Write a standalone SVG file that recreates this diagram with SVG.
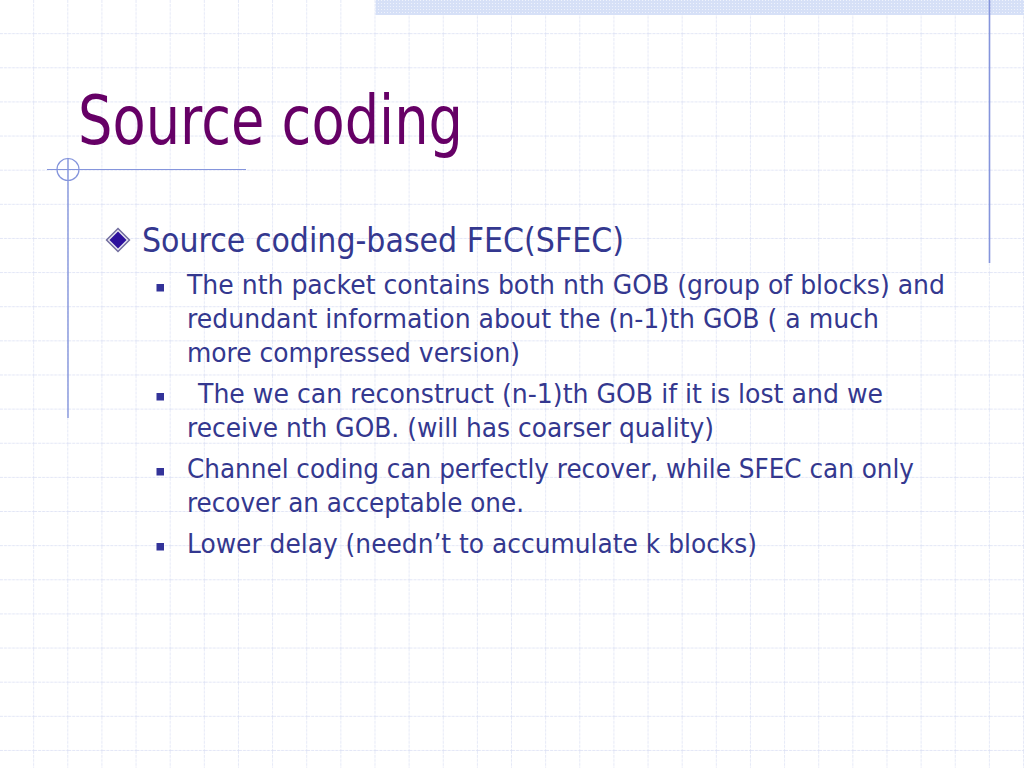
<svg xmlns="http://www.w3.org/2000/svg" width="1024" height="768" viewBox="0 0 1024 768">
  <defs>
    <pattern id="grid" x="0" y="0" width="34.1333" height="34.1333" patternUnits="userSpaceOnUse">
      <path d="M34.1333 0 V34.1333 M0 34.1333 H34.1333" fill="none" stroke="#d9def3" stroke-width="1.3" stroke-dasharray="3 1"/>
    </pattern>
    <pattern id="dots" x="0" y="0" width="3" height="3" patternUnits="userSpaceOnUse">
      <rect width="3" height="3" fill="#d6e0f7"/>
      <rect width="1" height="1" fill="#eef2fc"/>
    </pattern>
    <style>
      .deco { stroke: #8595dc; fill: none; }
      .title { font-family: "DejaVu Sans", Verdana, sans-serif; font-size: 68px; fill: #660066; }
      .l1 { font-family: "DejaVu Sans", Verdana, sans-serif; font-size: 33px; fill: #34388f; }
      .l2 { font-family: "DejaVu Sans", Verdana, sans-serif; font-size: 26px; fill: #34388f; }
      .sq { fill: #333399; }
    </style>
  </defs>

  <g id="background">
    <rect width="1024" height="768" fill="#ffffff"/>
    <rect width="1024" height="768" fill="url(#grid)"/>
    <rect x="375.5" y="0" width="648.5" height="15" fill="url(#dots)"/>
  </g>

  <g id="decoration">
    <line class="deco" x1="989.5" y1="0" x2="989.5" y2="263" stroke-width="1.6"/>
    <line class="deco" x1="68" y1="158" x2="68" y2="418" stroke-width="1.4"/>
    <line class="deco" x1="47" y1="169.5" x2="246" y2="169.5" stroke-width="1.2"/>
    <circle class="deco" cx="68" cy="169.5" r="11" stroke-width="1.2"/>
  </g>

  <g id="title">
    <text class="title" x="78" y="143.5" textLength="385" lengthAdjust="spacingAndGlyphs">Source coding</text>
  </g>

  <g id="bullet-l1">
    <polygon points="118,227.5 130.5,240 118,252.5 105.5,240" fill="#6f6a9c"/>
    <polygon points="118,229.5 128.5,240 118,250.5 107.5,240" fill="#e7e5f2"/>
    <polygon points="118,231.5 126.5,240 118,248.5 109.5,240" fill="#2c109c"/>
    <text class="l1" x="142" y="251.7" textLength="482" lengthAdjust="spacingAndGlyphs">Source coding-based FEC(SFEC)</text>
  </g>

  <g id="bullet-1">
    <rect class="sq" x="156.5" y="284" width="7.5" height="7.5"/>
    <text class="l2" x="187" y="293.5" textLength="758" lengthAdjust="spacingAndGlyphs">The nth packet contains both nth GOB (group of blocks) and</text>
    <text class="l2" x="187" y="327.5" textLength="692" lengthAdjust="spacingAndGlyphs">redundant information about the (n-1)th GOB ( a much</text>
    <text class="l2" x="187" y="361.5" textLength="333" lengthAdjust="spacingAndGlyphs">more compressed version)</text>
  </g>

  <g id="bullet-2">
    <rect class="sq" x="156.5" y="393" width="7.5" height="7.5"/>
    <text class="l2" x="198" y="403" textLength="685" lengthAdjust="spacingAndGlyphs">The we can reconstruct (n-1)th GOB if it is lost and we</text>
    <text class="l2" x="187" y="437" textLength="527" lengthAdjust="spacingAndGlyphs">receive nth GOB. (will has coarser quality)</text>
  </g>

  <g id="bullet-3">
    <rect class="sq" x="156.5" y="468" width="7.5" height="7.5"/>
    <text class="l2" x="187" y="478" textLength="727" lengthAdjust="spacingAndGlyphs">Channel coding can perfectly recover, while SFEC can only</text>
    <text class="l2" x="187" y="512" textLength="337" lengthAdjust="spacingAndGlyphs">recover an acceptable one.</text>
  </g>

  <g id="bullet-4">
    <rect class="sq" x="156.5" y="543" width="7.5" height="7.5"/>
    <text class="l2" x="187" y="553" textLength="570" lengthAdjust="spacingAndGlyphs">Lower delay (needn’t to accumulate k blocks)</text>
  </g>
</svg>
